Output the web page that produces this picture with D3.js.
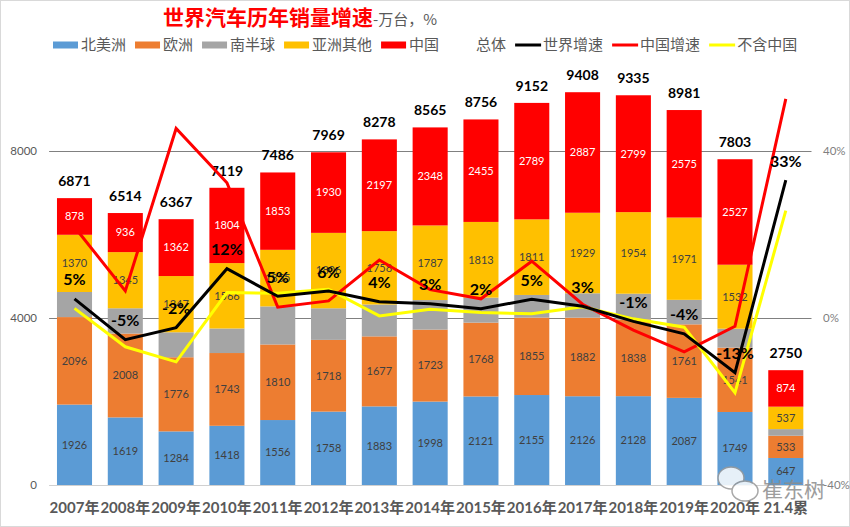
<!DOCTYPE html>
<html><head><meta charset="utf-8">
<script src="https://cdn.jsdelivr.net/npm/d3@7"></script>
<style>body{margin:0;background:#fff;} svg{display:block;}</style>
</head><body>
<svg id="chart" width="850" height="527"></svg>
<script>
const categories = ["2007年","2008年","2009年","2010年","2011年","2012年","2013年","2014年","2015年","2016年","2017年","2018年","2019年","2020年","21.4累"];
const northAmerica = [1926,1619,1284,1418,1556,1758,1883,1998,2121,2155,2126,2128,2087,1749,647];
const europe = [2096,2008,1776,1743,1810,1718,1677,1723,1768,1855,1882,1838,1761,1541,533];
const southHemisphere = [601,606,598,588,912,757,763,709,599,542,584,616,587,454,159];
const asiaOther = [1370,1345,1347,1566,1355,1806,1758,1787,1813,1811,1929,1954,1971,1532,537];
const china = [878,936,1362,1804,1853,1930,2197,2348,2455,2789,2887,2799,2575,2527,874];
const worldGrowth = [4.6,-5.2,-2.3,11.8,5.2,6.45,3.9,3.4,2.2,4.5,2.8,-0.8,-3.8,-13.1,33];
const chinaGrowth = [21.8,6.5,45.4,32.4,2.6,4.1,13.9,6.8,4.6,13.6,3.3,-2.9,-8.1,-2.0,52.5];
const exChinaGrowth = [2.3,-6.9,-10.5,6.1,5.9,6.9,0.5,2.1,1.3,1.0,2.7,-0.2,-2.2,-17.9,25.7];
const leftTicks = [0,4000,8000];
const rightTicks = [-40,0,40];

const seriesNames = ["北美洲","欧洲","南半球","亚洲其他","中国"];
const seriesColors = ["#5B9BD5","#ED7D31","#A5A5A5","#FFC000","#FF0000"];
const seriesData = [northAmerica, europe, southHemisphere, asiaOther, china];
const showSegLabel = [true,true,false,true,true];
const lineNames = ["世界增速","中国增速","不含中国"];
const lineColors = ["#000000","#FF0000","#FFFF00"];
const lineData = [worldGrowth, chinaGrowth, exChinaGrowth];

const NUM = "Lato, 'Noto Sans CJK SC', sans-serif";
const CJK = "'Noto Sans CJK SC', sans-serif";

const svg = d3.select("#chart");
svg.append("rect").attr("x",0.5).attr("y",0.5).attr("width",849).attr("height",526)
  .attr("fill","#fff").attr("stroke","#d9d9d9");

const x = d3.scaleBand().domain(categories).range([49.1, 811.2]).paddingInner(0.31).paddingOuter(0.155);
const y = d3.scaleLinear().domain([0,10000]).range([485, 67.5]);
const y2 = d3.scaleLinear().domain([-40,60]).range([485, 67.5]);

// gridlines
svg.append("g").selectAll("line").data(leftTicks).join("line")
  .attr("x1",49.1).attr("x2",811.5)
  .attr("y1",d=>Math.round(y(d))+0.5).attr("y2",d=>Math.round(y(d))+0.5)
  .attr("stroke",d=>d===0?"#d0d0d0":"#808080").attr("stroke-width",1);

// left axis labels
const yAxis = d3.axisLeft(y).tickValues(leftTicks).tickSize(0).tickPadding(0).tickFormat(d3.format("d"));
const gy = svg.append("g").attr("transform","translate(37,0)").call(yAxis);
gy.select(".domain").remove();
gy.selectAll("text").attr("font-family",NUM).attr("font-size",11.5).attr("fill","#595959");

const yAxis2 = d3.axisRight(y2).tickValues(rightTicks).tickSize(0).tickPadding(0).tickFormat(d=>d+"%");
const gy2 = svg.append("g").attr("transform","translate(823,0)").call(yAxis2);
gy2.select(".domain").remove();
gy2.selectAll("text").attr("font-family",NUM).attr("font-size",11.5).attr("fill","#7f7f7f");

// stacked bars
const rows = categories.map((c,i)=>{
  const o = {cat:c};
  seriesNames.forEach((n,k)=>o[n]=seriesData[k][i]);
  return o;
});
const stack = d3.stack().keys(seriesNames)(rows);
const totals = rows.map(r=>d3.sum(seriesNames,n=>r[n]));

stack.forEach((layer,k)=>{
  svg.append("g").selectAll("rect").data(layer).join("rect")
    .attr("x",d=>x(d.data.cat)).attr("width",x.bandwidth())
    .attr("y",d=>y(d[1])).attr("height",d=>y(d[0])-y(d[1]))
    .attr("fill",seriesColors[k]);
});
stack.forEach((layer,k)=>{
  if(!showSegLabel[k]) return;
  svg.append("g").selectAll("text").data(layer).join("text")
    .attr("x",d=>x(d.data.cat)+x.bandwidth()/2)
    .attr("y",d=>(y(d[0])+y(d[1]))/2)
    .attr("dy","0.35em").attr("text-anchor","middle")
    .attr("font-family",NUM).attr("font-size",11)
    .attr("fill",k===4?"#ffffff":"#404040")
    .text(d=>d[1]-d[0]);
});
// totals
svg.append("g").selectAll("text").data(totals).join("text")
  .attr("x",(d,i)=>x(categories[i])+x.bandwidth()/2)
  .attr("y",d=>y(d)-17).attr("dy","0.35em").attr("text-anchor","middle")
  .attr("font-family",NUM).attr("font-size",14).attr("font-weight","bold").attr("fill","#000")
  .text(d=>d);

// lines
const line = d3.line().x((d,i)=>x(categories[i])+x.bandwidth()/2).y(d=>y2(d));
[1,2,0].forEach(k=>{
  svg.append("path").datum(lineData[k]).attr("d",line)
    .attr("fill","none").attr("stroke",lineColors[k]).attr("stroke-width",3)
    .attr("stroke-linejoin","miter");
});
// growth labels
svg.append("g").selectAll("text").data(worldGrowth).join("text")
  .attr("x",(d,i)=>x(categories[i])+x.bandwidth()/2)
  .attr("y",d=>y2(d)-19).attr("dy","0.35em").attr("text-anchor","middle")
  .attr("font-family",NUM).attr("font-size",16).attr("font-weight","bold").attr("fill","#000")
  .text(d=>Math.round(d)+"%");

// x axis labels
svg.append("g").selectAll("text").data(categories).join("text")
  .attr("x",d=>x(d)+x.bandwidth()/2).attr("y",513).attr("text-anchor","middle")
  .attr("font-family",NUM).attr("font-size",15).attr("font-weight","bold").attr("fill","#595959")
  .text(d=>d);

// title
const title = svg.append("text").attr("x",163).attr("y",25).attr("font-family",CJK);
title.append("tspan").attr("font-size",21).attr("font-weight","bold").attr("fill","#FF0000").text("世界汽车历年销量增速");
title.append("tspan").attr("font-size",15).attr("fill","#595959").text("-万台，%");

// legend
const legendItems = [];
seriesNames.forEach((n,k)=>legendItems.push({name:n,type:"rect",color:seriesColors[k]}));
legendItems.push({name:"总体",type:"none",color:"none"});
lineNames.forEach((n,k)=>legendItems.push({name:n,type:"line",color:lineColors[k]}));
let lx = 53;
const ly = 45;
const lg = svg.append("g");
legendItems.forEach(it=>{
  if(it.type==="rect"){
    lg.append("rect").attr("x",lx).attr("y",ly-3.5).attr("width",25).attr("height",7).attr("fill",it.color);
  } else if(it.type==="line"){
    lg.append("line").attr("x1",lx).attr("x2",lx+26).attr("y1",ly).attr("y2",ly)
      .attr("stroke",it.color).attr("stroke-width",3);
  }
  const t = lg.append("text").attr("x",lx+28).attr("y",ly).attr("dy","0.36em")
    .attr("font-family",CJK).attr("font-size",15).attr("fill","#595959").text(it.name);
  lx = lx + 28 + t.node().getComputedTextLength() + 9;
});

// watermark
const wm = svg.append("g").attr("opacity",0.85);
wm.append("ellipse").attr("cx",731).attr("cy",478).attr("rx",13).attr("ry",11).attr("fill","#fff").attr("stroke","#9a9a9a").attr("stroke-width",1.5);
wm.append("ellipse").attr("cx",745).attr("cy",491).attr("rx",13).attr("ry",10).attr("fill","#fff").attr("stroke","#9a9a9a").attr("stroke-width",1.5);
wm.append("text").attr("x",762).attr("y",497).attr("font-family",CJK).attr("font-size",21)
  .attr("fill","#8c8c8c").text("崔东树");
</script>
</body></html>
